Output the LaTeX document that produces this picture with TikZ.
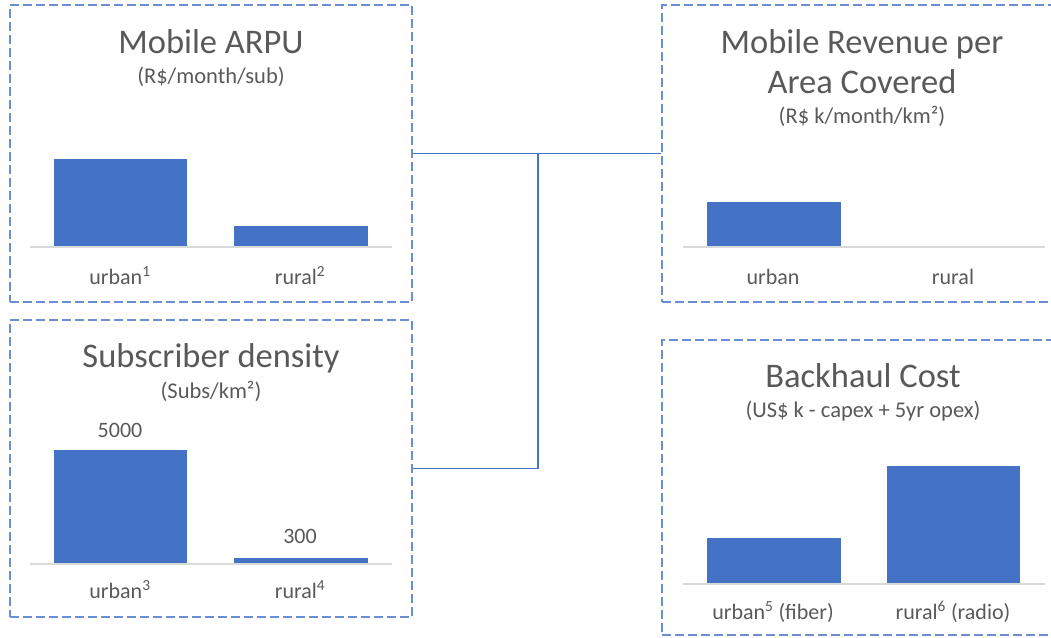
\documentclass[tikz,border=0pt]{standalone}
\usepackage{fontspec}
\setmainfont{Carlito}
\usetikzlibrary{positioning}
\definecolor{barblue}{HTML}{4472C4}
\definecolor{boxblue}{HTML}{6A8FD4}
\definecolor{txtgray}{HTML}{595959}
\definecolor{axisgray}{HTML}{D9D9D9}
\tikzset{
	panel/.style={draw=boxblue, line width=1.4pt, dash pattern=on 9pt off 4pt, minimum width=402pt, minimum height=297pt, inner sep=0pt},
	title/.style={anchor=base, text=txtgray, inner sep=0pt, font=\fontsize{34.5}{38}\selectfont},
	unit/.style={anchor=base, text=txtgray, inner sep=0pt, font=\fontsize{22.5}{26}\selectfont},
	lbl/.style={anchor=base, text=txtgray, inner sep=0pt, font=\fontsize{22}{26}\selectfont},
	link/.style={draw=barblue, line width=1.5pt},
	axis/.style={draw=axisgray, line width=1.5pt}
}

\begin{document}
\begin{tikzpicture}[x=1pt,y=-1pt]
	\useasboundingbox (0,0) rectangle (1051,637);
	\clip (0,0) rectangle (1051,637);

	% panels
	\node[panel] (arpu) at (211,153.5) {};
	\node[panel] (dens) at (211,468.5) {};
	\node[panel, minimum width=400pt] (rev) at (862,153.5) {};
	\node[panel, minimum width=400pt, minimum height=295pt] (back) at (862,487.5) {};

	% connectors
	\coordinate (hub) at (538,153.5);
	\draw[link] (arpu.east) -- (rev.west);
	\draw[link] (dens.east) -| (hub);

	% Mobile ARPU
	\node[title] (arpuT) at (211,53) {Mobile ARPU};
	\node[unit] (arpuU) at (211,83) {(R\$/month/sub)};
	\fill[barblue] (54,247) rectangle (187,159);
	\fill[barblue] (234,247) rectangle (368,226);
	\draw[axis] (30,247) -- (392,247);
	\node[lbl] (arpuA) at (120,284) {urban\textsuperscript{1}};
	\node[lbl] (arpuB) at (300,284) {rural\textsuperscript{2}};

	% Subscriber density
	\node[title] (densT) at (211,367) {Subscriber density};
	\node[unit] (densU) at (211,398) {(Subs/km²)};
	\fill[barblue] (54,564) rectangle (187,450);
	\fill[barblue] (234,564) rectangle (368,558);
	\draw[axis] (30,564) -- (392,564);
	\node[lbl] (densVa) at (120,437) {5000};
	\node[lbl] (densVb) at (300,543) {300};
	\node[lbl] (densA) at (120,598) {urban\textsuperscript{3}};
	\node[lbl] (densB) at (300,598) {rural\textsuperscript{4}};

	% Mobile Revenue per Area Covered
	\node[title] (revT) at (862,53) {Mobile Revenue per};
	\node[title] (revTb) at (862,93) {Area Covered};
	\node[unit] (revU) at (862,123) {(R\$ k/month/km²)};
	\fill[barblue] (707,247) rectangle (841,202);
	\draw[axis] (683,247) -- (1045,247);
	\node[lbl] (revA) at (773,284) {urban};
	\node[lbl] (revB) at (953,284) {rural};

	% Backhaul Cost
	\node[title] (backT) at (863,387) {Backhaul Cost};
	\node[unit] (backU) at (863,417) {(US\$ k - capex + 5yr opex)};
	\fill[barblue] (707,584) rectangle (841,538);
	\fill[barblue] (887,584) rectangle (1020,466);
	\draw[axis] (683,584) -- (1045,584);
	\node[lbl] (backA) at (773,619) {urban\textsuperscript{5} (fiber)};
	\node[lbl] (backB) at (953,619) {rural\textsuperscript{6} (radio)};

\end{tikzpicture}
\end{document}
